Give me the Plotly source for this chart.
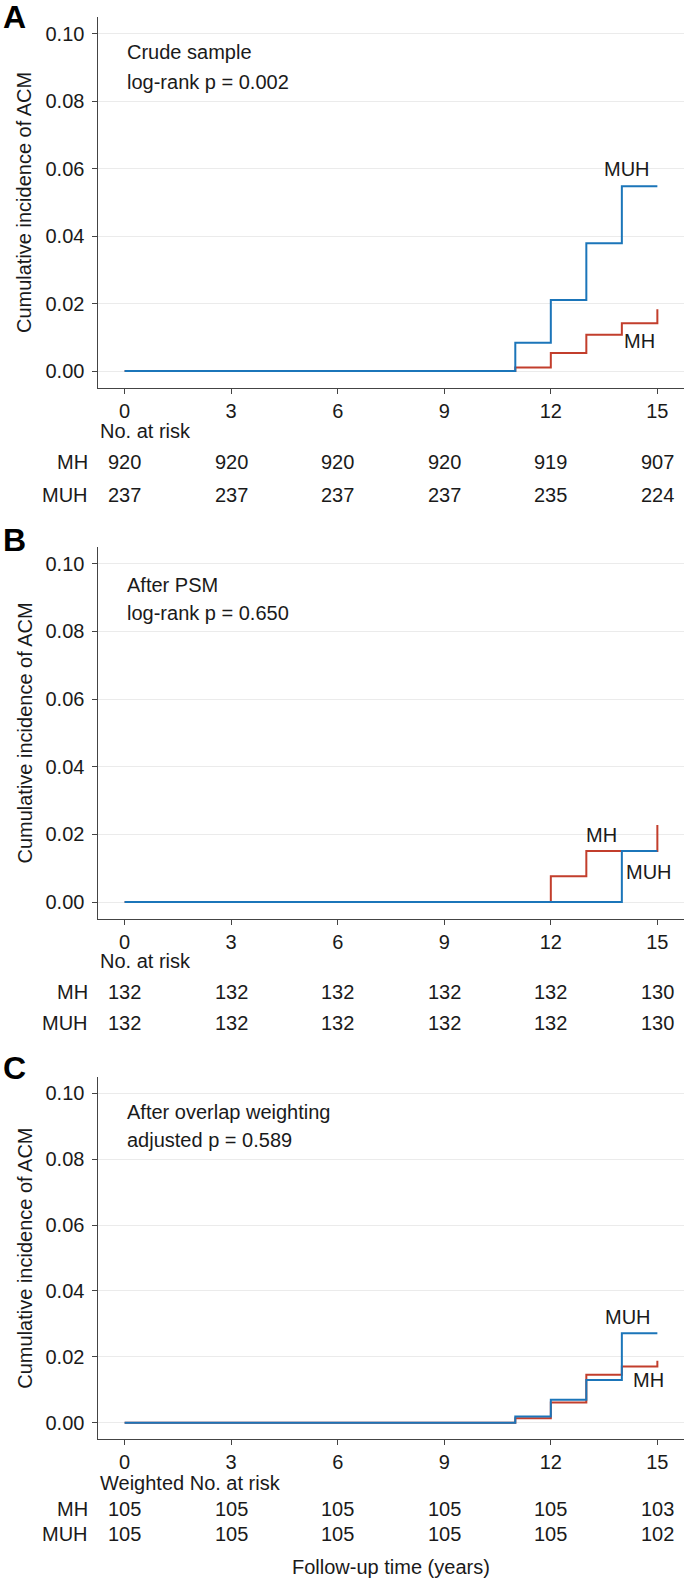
import plotly.graph_objects as go

# ---------------- data ----------------
time_ticks = [0, 3, 6, 9, 12, 15]
y_ticks = [0.00, 0.02, 0.04, 0.06, 0.08, 0.10]
groups = ["MH", "MUH"]

# Panel A: crude sample
a_mh_t = [0, 11, 12, 13, 14, 15]
a_mh_ci = [0.0, 0.0011, 0.0054, 0.0108, 0.0142, 0.0183]
a_muh_t = [0, 11, 12, 13, 14, 15]
a_muh_ci = [0.0, 0.0084, 0.0211, 0.0379, 0.0548, 0.0548]
a_risk_mh = [920, 920, 920, 920, 919, 907]
a_risk_muh = [237, 237, 237, 237, 235, 224]

# Panel B: after PSM
b_mh_t = [0, 12, 13, 15]
b_mh_ci = [0.0, 0.0076, 0.0151, 0.0228]
b_muh_t = [0, 14, 15]
b_muh_ci = [0.0, 0.0151, 0.0151]
b_risk_mh = [132, 132, 132, 132, 132, 130]
b_risk_muh = [132, 132, 132, 132, 132, 130]

# Panel C: after overlap weighting
c_mh_t = [0, 11, 12, 13, 14, 15]
c_mh_ci = [0.0, 0.0014, 0.0062, 0.0146, 0.0171, 0.0188]
c_muh_t = [0, 11, 12, 13, 14, 15]
c_muh_ci = [0.0, 0.0019, 0.0070, 0.0130, 0.0272, 0.0272]
c_risk_mh = [105, 105, 105, 105, 105, 103]
c_risk_muh = [105, 105, 105, 105, 105, 102]

panel_letters = ["A", "B", "C"]
panel_text1 = ["Crude sample", "After PSM", "After overlap weighting"]
panel_text2 = ["log-rank p = 0.002", "log-rank p = 0.650", "adjusted p = 0.589"]
risk_headers = ["No. at risk", "No. at risk", "Weighted No. at risk"]
y_title = "Cumulative incidence of ACM"
x_title = "Follow-up time (years)"

# ---------------- layout constants (pixels) ----------------
W, H = 685, 1578
RED = "#C23E2C"
BLUE = "#1B75B9"
AXC = "#444444"
TXT = "#1a1a1a"
FONT = "Liberation Sans, Arial, sans-serif"
FS = 20

def px(xp):
    return xp / W

def py(yp):
    return 1 - yp / H

X_LEFT, X_RIGHT = 98, 684
panels = [
    dict(top=16.7, bottom=388.0, letter_y=17, risk_y=[431, 461.7, 495],
         lab_pos={"MUH": (14.15, 0.060), "MH": (14.5, 0.009)},
         txt_y=(0.0945, 0.0858),
         mh=(a_mh_t, a_mh_ci), muh=(a_muh_t, a_muh_ci), risk=(a_risk_mh, a_risk_muh)),
    dict(top=546.7, bottom=919.0, letter_y=540, risk_y=[960.7, 992.3, 1022.7],
         lab_pos={"MH": (13.44, 0.0199), "MUH": (14.76, 0.009)},
         txt_y=(0.0937, 0.0855),
         mh=(b_mh_t, b_mh_ci), muh=(b_muh_t, b_muh_ci), risk=(b_risk_mh, b_risk_muh)),
    dict(top=1076.7, bottom=1439.3, letter_y=1068, risk_y=[1483.3, 1509.3, 1534],
         lab_pos={"MUH": (14.16, 0.032), "MH": (14.75, 0.013)},
         txt_y=(0.0944, 0.0858),
         mh=(c_mh_t, c_mh_ci), muh=(c_muh_t, c_muh_ci), risk=(c_risk_mh, c_risk_muh)),
]

fig = go.Figure()
annotations = []

for i, p in enumerate(panels):
    n = "" if i == 0 else str(i + 1)
    xa, ya = "x" + n, "y" + n
    # traces: MH first, MUH on top
    for (t, ci), col, name in [(p["mh"], RED, "MH"), (p["muh"], BLUE, "MUH")]:
        fig.add_trace(go.Scatter(x=t, y=ci, mode="lines", line=dict(color=col, width=2, shape="hv"),
                                 name=name, showlegend=False, xaxis=xa, yaxis=ya, hoverinfo="skip"))
    axis_common = dict(showline=True, linecolor=AXC, linewidth=1.1, ticks="outside", ticklen=4.5,
                       tickcolor=AXC, tickwidth=1.1, zeroline=False, mirror=False,
                       tickfont=dict(family=FONT, size=FS, color=TXT))
    fig.update_layout(**{
        "xaxis" + n: dict(domain=[px(X_LEFT), px(X_RIGHT)], range=[-0.75, 15.75], tickvals=time_ticks,
                          showgrid=False, anchor=ya, **axis_common),
        "yaxis" + n: dict(domain=[py(p["bottom"]), py(p["top"])], range=[-0.005, 0.105], tickvals=y_ticks,
                          tickformat=".2f", showgrid=True, gridcolor="#EBEBEB", gridwidth=1.1,
                          anchor=xa, ticklabelstandoff=4, **axis_common),
    })
    # panel letter
    annotations.append(dict(text="<b>%s</b>" % panel_letters[i], x=px(14), y=py(p["letter_y"]),
                            xref="paper", yref="paper", showarrow=False, xanchor="center", yanchor="middle",
                            font=dict(family=FONT, size=32, color="black")))
    # y title
    annotations.append(dict(text=y_title, x=px(24.7), y=py((p["top"] + p["bottom"]) / 2),
                            xref="paper", yref="paper", showarrow=False, textangle=-90,
                            xanchor="center", yanchor="middle", font=dict(family=FONT, size=FS, color=TXT)))
    # in-panel text
    for txt, yy in zip([panel_text1[i], panel_text2[i]], p["txt_y"]):
        annotations.append(dict(text=txt, x=0, y=yy, xref=xa, yref=ya, showarrow=False,
                                xanchor="left", yanchor="middle", font=dict(family=FONT, size=FS, color=TXT)))
    # curve labels
    for g in groups:
        lx, ly = p["lab_pos"][g]
        annotations.append(dict(text=g, x=lx, y=ly, xref=xa, yref=ya, showarrow=False,
                                xanchor="center", yanchor="middle", font=dict(family=FONT, size=FS, color=TXT)))
    # risk table
    annotations.append(dict(text=risk_headers[i], x=px(X_LEFT), y=py(p["risk_y"][0]), xref="paper", yref="paper",
                            showarrow=False, xanchor="left", yanchor="middle",
                            font=dict(family=FONT, size=FS, color=TXT)))
    for g, vals, ry in zip(groups, p["risk"], p["risk_y"][1:]):
        annotations.append(dict(text=g, x=px(89.5), y=py(ry), xref="paper", yref="paper", showarrow=False,
                                xanchor="right", yanchor="middle", font=dict(family=FONT, size=FS, color=TXT)))
        for t, v in zip(time_ticks, vals):
            annotations.append(dict(text=str(v), x=t, y=py(ry), xref=xa, yref="paper", showarrow=False,
                                    xanchor="center", yanchor="middle",
                                    font=dict(family=FONT, size=FS, color=TXT)))

annotations.append(dict(text=x_title, x=px((X_LEFT + X_RIGHT) / 2), y=py(1566.7), xref="paper", yref="paper",
                        showarrow=False, xanchor="center", yanchor="middle",
                        font=dict(family=FONT, size=FS, color=TXT)))

fig.update_layout(width=W, height=H, margin=dict(l=0, r=0, t=0, b=0), autosize=False,
                  paper_bgcolor="white", plot_bgcolor="white", annotations=annotations,
                  font=dict(family=FONT, size=FS, color=TXT))

fig.write_html("out.html", config={"displayModeBar": False},
               post_script="document.body.style.margin='0';document.body.style.overflow='hidden';"
                           "document.documentElement.style.overflow='hidden';")
